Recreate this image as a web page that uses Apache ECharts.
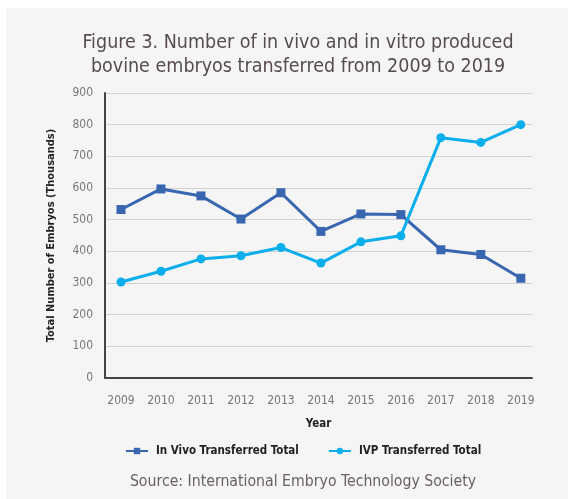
<!DOCTYPE html>
<html>
<head>
<meta charset="utf-8">
<script src="https://cdn.jsdelivr.net/npm/echarts@6/dist/echarts.min.js"></script>
<style>
  html, body { margin: 0; padding: 0; background: #ffffff; }
  #chart { position: absolute; left: 6px; top: 8px; width: 562px; height: 491px; background: #f5f5f5; }
</style>
</head>
<body>
<div id="chart"></div>
<script>
const years = [2009, 2010, 2011, 2012, 2013, 2014, 2015, 2016, 2017, 2018, 2019];
const inVivo = [532, 597, 575, 502, 585, 463, 518, 516, 405, 390, 315];
const ivp = [303, 337, 376, 386, 412, 363, 430, 449, 759, 744, 800];
const yTicks = [0, 100, 200, 300, 400, 500, 600, 700, 800, 900];

const condensed = '"DejaVu Sans Condensed", "Liberation Sans Narrow", sans-serif';

const chart = echarts.init(document.getElementById('chart'));

const pair = (vals) => years.map((y, i) => [y, vals[i]]);

chart.setOption({
  backgroundColor: '#f5f5f5',
  animation: false,
  title: [
    {
      text: 'Figure 3. Number of in vivo and in vitro produced\nbovine embryos transferred from 2009 to 2019',
      left: 287,
      top: 18,
      textAlign: 'center',
      textStyle: {
        fontFamily: condensed,
        fontSize: 19.5,
        fontWeight: 'normal',
        color: '#564c4c',
        lineHeight: 24
      }
    },
    {
      text: 'Source: International Embryo Technology Society',
      left: 292,
      top: 461,
      textAlign: 'center',
      textStyle: {
        fontFamily: condensed,
        fontSize: 15.7,
        fontWeight: 'normal',
        color: '#6a6060'
      }
    }
  ],
  legend: {
    top: 432,
    left: 114,
    itemGap: 29,
    itemWidth: 22,
    itemHeight: 8,
    textStyle: {
      fontFamily: condensed,
      fontSize: 11.5,
      fontWeight: 'bold',
      color: '#222',
      padding: [0, 0, 0, 3]
    },
    data: ['In Vivo Transferred Total', 'IVP Transferred Total']
  },
  grid: {
    left: 99,
    right: 36,
    top: 85,
    bottom: 121,
    containLabel: false
  },
  xAxis: {
    type: 'value',
    min: 2008.6,
    max: 2019.28,
    name: 'Year',
    nameLocation: 'middle',
    nameGap: 40,
    nameTextStyle: {
      fontFamily: condensed,
      fontSize: 11.5,
      fontWeight: 'bold',
      color: '#222'
    },
    splitLine: { show: false },
    axisTick: { show: false },
    axisLine: { lineStyle: { color: '#444', width: 2 } },
    axisLabel: {
      customValues: years,
      formatter: (v) => String(v),
      fontFamily: condensed,
      fontSize: 12,
      color: '#777',
      margin: 17
    }
  },
  yAxis: {
    type: 'value',
    min: 0,
    max: 900,
    interval: 100,
    name: 'Total Number of Embryos (Thousands)',
    nameLocation: 'middle',
    nameGap: 48,
    nameTextStyle: {
      fontFamily: condensed,
      fontSize: 11,
      fontWeight: 'bold',
      color: '#222'
    },
    axisLine: { show: true, lineStyle: { color: '#444', width: 2 } },
    axisTick: { show: false },
    splitLine: { lineStyle: { color: '#d2d2d2', width: 1 } },
    axisLabel: {
      fontFamily: condensed,
      fontSize: 12,
      color: '#777',
      margin: 12,
      customValues: yTicks
    }
  },
  series: [
    {
      name: 'In Vivo Transferred Total',
      type: 'line',
      data: pair(inVivo),
      symbol: 'rect',
      symbolSize: 9,
      lineStyle: { width: 3, color: '#3866b0' },
      itemStyle: { color: '#3866b0' }
    },
    {
      name: 'IVP Transferred Total',
      type: 'line',
      data: pair(ivp),
      symbol: 'circle',
      symbolSize: 9,
      lineStyle: { width: 3, color: '#0aaeec' },
      itemStyle: { color: '#0aaeec' }
    }
  ]
});
</script>
</body>
</html>
